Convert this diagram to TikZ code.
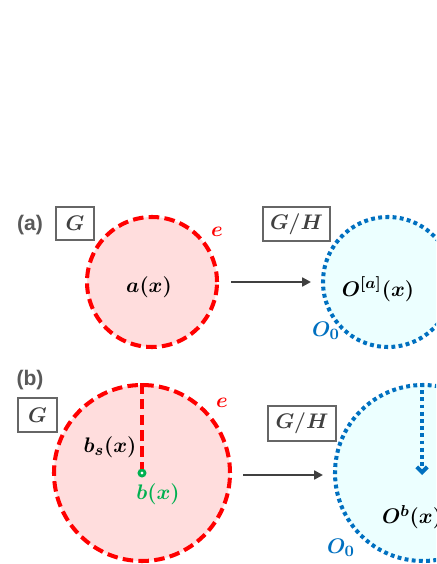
\documentclass[tikz,border=0pt]{standalone}
\usepackage{amsmath}
\usepackage{bm}
\usepackage{fontspec}
\usepackage{tikz}
\usetikzlibrary{arrows.meta,positioning}
\newfontfamily\lblfont{Liberation Sans}
\definecolor{orred}{RGB}{255,0,0}
\definecolor{orpink}{RGB}{255,221,221}
\definecolor{orblue}{RGB}{0,112,192}
\definecolor{orcyan}{RGB}{236,255,255}
\definecolor{orgreen}{RGB}{0,176,80}
\definecolor{orgray}{RGB}{64,64,64}
\definecolor{orlbl}{RGB}{89,89,89}
\tikzset{
  redorb/.style={circle, draw=orred, fill=orpink, line width=2.3pt,
    dash pattern=on 6pt off 3pt, inner sep=0pt},
  blueorb/.style={circle, draw=orblue, fill=orcyan, line width=2.3pt,
    dash pattern=on 2.2pt off 1.9pt, inner sep=0pt},
  grpbox/.style={draw=orgray!80, line width=0.6pt, inner sep=0pt,
    font=\fontsize{13}{15}\selectfont, text=orgray},
  tag/.style={font=\lblfont\bfseries\large, text=orlbl},
  mth/.style={font=\fontsize{13}{15}\selectfont},
  arr/.style={-{Triangle[length=5pt,width=5pt]}, draw=orgray, line width=1.3pt}
}
\begin{document}
\begin{tikzpicture}[x=0.02cm,y=-0.02cm]
  \useasboundingbox (0,0) rectangle (436,564);
  \clip (0,0) rectangle (436,564);

  % (a) row
  \node[tag] (taga) at (30,225) {(a)};
  \node[grpbox, minimum width=38*0.02cm, minimum height=33*0.02cm] (ga) at (75,223.5) {$\bm{G}$};
  \node[redorb, minimum size=130*0.02cm] (ea) at (152,282) {};
  \node[mth] (ax) at (149,287) {$\bm{a(x)}$};
  \node[mth, text=orred] (ela) at (217,232) {$\bm{e}$};
  \node[grpbox, minimum width=67*0.02cm, minimum height=34*0.02cm] (gha) at (296.5,224) {$\bm{G/H}$};
  \node[blueorb, minimum size=130*0.02cm] (oa) at (388,282) {};
  \node[mth] (oax) at (378,289) {$\bm{O^{[a]}(x)}$};
  \node[mth, text=orblue] (o0a) at (326,331) {$\bm{O_0}$};
  \draw[arr] (ea.east) ++(12,0) coordinate (sa) -- ++(80,0) coordinate (ta);

  % (b) row
  \node[tag] (tagb) at (30,380) {(b)};
  \node[grpbox, minimum width=39*0.02cm, minimum height=34*0.02cm] (gb) at (37.5,415) {$\bm{G}$};
  \node[redorb, minimum size=176*0.02cm] (eb) at (142,473) {};
  \node[mth, text=orred] (elb) at (222,403) {$\bm{e}$};
  \node[circle, draw=orgreen, fill=white, line width=1.6pt, minimum size=6*0.02cm, inner sep=0pt] (bx) at (142,473) {};
  \draw[orred, line width=2.3pt, dash pattern=on 6pt off 3pt] (eb.north) -- (bx.north);
  \node[mth] (bsx) at (110,447) {$\bm{b_s(x)}$};
  \node[mth, text=orgreen] (bxl) at (158,494) {$\bm{b(x)}$};
  \node[grpbox, minimum width=68*0.02cm, minimum height=35*0.02cm] (ghb) at (302,423.5) {$\bm{G/H}$};
  \node[blueorb, minimum size=176*0.02cm] (ob) at (423,473) {};
  \coordinate (obc) at (422,475);
  \draw[orblue, line width=2.3pt, dash pattern=on 2.2pt off 1.9pt,
    -{Straight Barb[length=3pt,width=6pt]}] (ob.north -| obc) -- (obc);
  \node[mth] (obx) at (412,517) {$\bm{O^b(x)}$};
  \node[mth, text=orblue] (o0b) at (341,548) {$\bm{O_0}$};
  \draw[arr] (243,475) coordinate (sb) -- (323,475) coordinate (tb);
\end{tikzpicture}
\end{document}
